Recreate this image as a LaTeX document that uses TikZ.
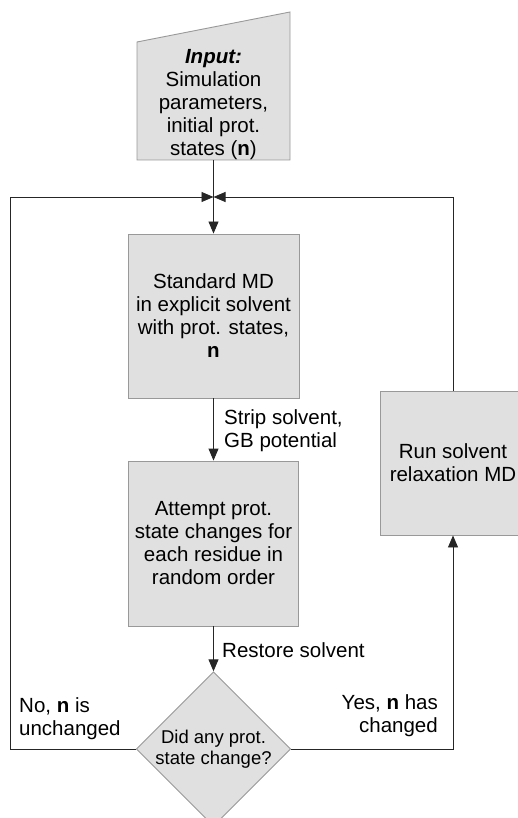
\documentclass[tikz,border=0pt]{standalone}
\usepackage{fontspec}
\setmainfont{Liberation Sans}
\usetikzlibrary{arrows.meta,shapes.geometric}
\begin{document}
\begin{tikzpicture}[x=1pt,y=-1pt,
  every node/.style={font=\fontsize{20.5}{23}\selectfont},
  box/.style={draw=black!40,fill=black!12,line width=0.9pt,align=center,inner sep=0pt},
  decbox/.style={diamond,draw=black!40,fill=black!12,line width=0.9pt,align=center,inner sep=0pt,
    minimum width=152pt,minimum height=146pt,font=\fontsize{18.5}{21}\selectfont},
  conn/.style={draw=black!85,line width=0.9pt},
  arr/.style={conn,-{Triangle[length=12pt,width=10pt]}},
  lbl/.style={inner sep=0pt}]
\useasboundingbox (0,0) rectangle (518,818);
% input trapezoid
\path[fill=black!12,draw=black!40,line width=0.9pt] (137,42) -- (290,12) -- (290,160) -- (137,160) -- cycle;
\node[align=center,inner sep=0pt] (input) at (213.5,105) {\textbf{\textit{Input:}}\\Simulation\\parameters,\\initial prot.\\states (\textbf{n})};
\coordinate (inbot) at (213.5,160);
\coordinate (merge) at (213.5,197);
\node[box,minimum width=171pt,minimum height=164pt] (md) at (213.5,316) {Standard MD\\in explicit solvent\\with prot. states,\\\textbf{n}};
\node[box,minimum width=170pt,minimum height=165pt] (att) at (213.5,543.5) {Attempt prot.\\state changes for\\each residue in\\random order};
\node[box,minimum width=146pt,minimum height=144pt] (relax) at (453,463) {Run solvent\\relaxation MD};
\node[decbox] (dec) at (213.5,749) {Did any prot.\\state change?};
\coordinate (lb) at (10,749);
\coordinate (lt) at (10,197);
\coordinate (rt) at (453,197);
\coordinate (rb) at (453,749);
% connectors
\draw[conn] (inbot) -- (merge);
\draw[arr] (merge) -- (md.north);
\draw[arr] (md.south) -- (att.north);
\draw[arr] (att.south) -- (dec.north);
\draw[arr] (dec.west) -- (lb) -- (lt) -- (merge);
\draw[arr] (dec.east) -- (rb) -- (relax.south);
\draw[arr] (relax.north) -- (rt) -- (merge);
% labels
\node[lbl,anchor=west,align=left] (l1) at (224,431) {Strip solvent,\\GB potential};
\node[lbl,anchor=west] (l2) at (222,650) {Restore solvent};
\node[lbl,anchor=east,align=right] (l3) at (438,716) {Yes, \textbf{n} has\\changed};
\node[lbl,anchor=west,align=left] (l4) at (19,719) {No, \textbf{n} is\\unchanged};
\end{tikzpicture}
\end{document}
